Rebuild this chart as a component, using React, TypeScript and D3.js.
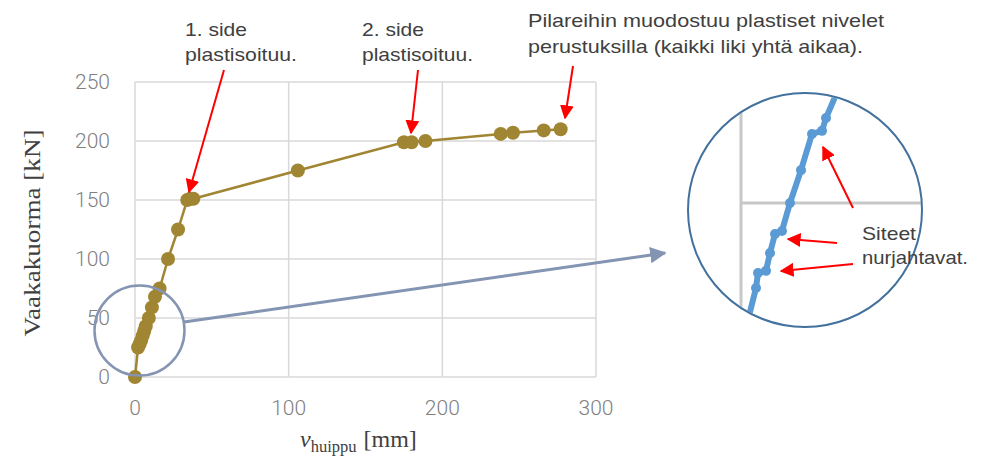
import React from "react";
import * as d3 from "d3";

// Main series: v_huippu [mm] vs Vaakakuorma [kN]
const dispMm = [0, 2, 3, 4, 5, 6, 7, 9, 11, 13, 16, 21.5, 28, 34, 36, 38, 106, 175, 180, 189, 238, 246, 266, 277];
const loadKn = [0, 25, 28, 31, 35, 39, 43, 50, 59, 68, 75, 100, 125, 150, 151, 151, 175, 199, 199, 200, 206, 207, 209, 210];

// Zoomed detail (inset) series
const insetDisp = [1.75, 3.75, 4.25, 6.25, 7.25, 8.5, 10.25, 12.25, 15, 17.75, 20.25, 21.25, 24.25];
const insetLoad = [11.9, 22.3, 27.2, 27.9, 33.7, 39.9, 40.9, 50, 60.7, 72.5, 73.5, 77.7, 86.8];
const insetMarked = [false, true, true, true, true, true, true, true, true, true, true, true, false];

const xTicks = [0, 100, 200, 300];
const yTicks = [0, 50, 100, 150, 200, 250];

export default function App() {
  const W = 982, H = 471;
  const x = d3.scaleLinear().domain([0, 300]).range([135, 596]);
  const y = d3.scaleLinear().domain([0, 250]).range([377, 82]);

  const xi = d3.scaleLinear().domain([0, 30]).range([741, 741 + 30 * 4]);
  const yi = d3.scaleLinear().domain([50, 80]).range([203, 203 - 30 * 3.07]);

  const pts = dispMm.map((d, i) => [d, loadKn[i]] as [number, number]);
  const line = d3.line<[number, number]>().x(d => x(d[0])).y(d => y(d[1]));
  const ipts = insetDisp.map((d, i) => [d, insetLoad[i]] as [number, number]);
  const iline = d3.line<[number, number]>().x(d => xi(d[0])).y(d => yi(d[1]));

  const gold = "#a08532";
  const grid = "#d9d9d9";
  const tickCol = "#7f7f7f";
  const txt = "#404040";
  const slate = "#8494b3";
  const red = "#ff0000";

  const icx = 805, icy = 210, ir = 117;

  const redArrow = (x1: number, y1: number, x2: number, y2: number, key: string) => (
    <line key={key} x1={x1} y1={y1} x2={x2} y2={y2} stroke={red} strokeWidth={2} markerEnd="url(#redHead)" />
  );

  return (
    <svg width={W} height={H} style={{ display: "block", position: "absolute", left: 0, top: 0 }}>
      <defs>
        <marker id="redHead" viewBox="0 0 10 10" refX="9" refY="5" markerWidth="7" markerHeight="7" markerUnits="strokeWidth" orient="auto">
          <path d="M0,0 L10,5 L0,10 Z" fill={red} />
        </marker>
        <marker id="slateHead" viewBox="0 0 10 10" refX="9" refY="5" markerWidth="5.5" markerHeight="5.5" markerUnits="strokeWidth" orient="auto">
          <path d="M0,0 L10,5 L0,10 Z" fill={slate} />
        </marker>
        <clipPath id="insetClip">
          <circle cx={icx} cy={icy} r={ir - 1} />
        </clipPath>
      </defs>
      <rect width={W} height={H} fill="#fff" />

      {/* gridlines */}
      {yTicks.map(t => (
        <line key={"gy" + t} x1={x(0)} x2={x(300)} y1={y(t)} y2={y(t)} stroke={grid} strokeWidth={1.5} />
      ))}
      {xTicks.map(t => (
        <line key={"gx" + t} x1={x(t)} x2={x(t)} y1={y(0)} y2={y(250)} stroke={grid} strokeWidth={1.5} />
      ))}

      {/* tick labels */}
      {yTicks.map(t => (
        <text key={"ly" + t} x={110} y={y(t)} dy="0.35em" textAnchor="end" fontFamily="Roboto" fontWeight={300} fontSize={21} fill={tickCol}>{t}</text>
      ))}
      {xTicks.map(t => (
        <text key={"lx" + t} x={x(t)} y={408} dy="0.35em" textAnchor="middle" fontFamily="Roboto" fontWeight={300} fontSize={21} fill={tickCol}>{t}</text>
      ))}

      {/* axis titles */}
      <text transform="translate(40,233) rotate(-90)" textAnchor="middle" fontFamily="Liberation Serif" fontSize={24} fill={txt} textLength={207} lengthAdjust="spacingAndGlyphs">Vaakakuorma [kN]</text>
      <text x={300} y={447} fontFamily="Liberation Serif" fontSize={24} fill={txt}>
        <tspan fontStyle="italic">v</tspan>
        <tspan fontSize={16.5} dy={5}>huippu</tspan>
        <tspan dy={-5} dx={7}>[mm]</tspan>
      </text>

      {/* data */}
      <path d={line(pts) || ""} fill="none" stroke={gold} strokeWidth={2.5} />
      {pts.map((p, i) => (
        <circle key={"p" + i} cx={x(p[0])} cy={y(p[1])} r={7} fill={gold} />
      ))}

      {/* magnifier circle & connector */}
      <circle cx={139.5} cy={330.5} r={45} fill="none" stroke={slate} strokeWidth={2.5} />
      <line x1={184} y1={322} x2={665} y2={253} stroke={slate} strokeWidth={3} markerEnd="url(#slateHead)" />

      {/* inset */}
      <circle cx={icx} cy={icy} r={ir} fill="#fff" />
      <g clipPath="url(#insetClip)">
        <line x1={xi(0)} x2={xi(0)} y1={icy - ir} y2={icy + ir} stroke="#c8c8c8" strokeWidth={3} />
        <line x1={xi(0)} x2={icx + ir} y1={yi(50)} y2={yi(50)} stroke="#c8c8c8" strokeWidth={3} />
        <path d={iline(ipts) || ""} fill="none" stroke="#5b9bd5" strokeWidth={6} strokeLinecap="round" />
        {ipts.map((p, i) => insetMarked[i] ? (
          <circle key={"ip" + i} cx={xi(p[0])} cy={yi(p[1])} r={5} fill="#5b9bd5" />
        ) : null)}
      </g>
      <circle cx={icx} cy={icy} r={ir} fill="none" stroke="#41719c" strokeWidth={2} />

      {/* annotations */}
      <g fontFamily="Liberation Sans" fontSize={19} fill={txt}>
        <text x={185} y={36} textLength={62} lengthAdjust="spacingAndGlyphs">1. side</text>
        <text x={185} y={61} textLength={112} lengthAdjust="spacingAndGlyphs">plastisoituu.</text>
        <text x={362} y={36} textLength={62} lengthAdjust="spacingAndGlyphs">2. side</text>
        <text x={362} y={61} textLength={111} lengthAdjust="spacingAndGlyphs">plastisoituu.</text>
        <text x={528} y={27} textLength={356} lengthAdjust="spacingAndGlyphs">Pilareihin muodostuu plastiset nivelet</text>
        <text x={528} y={53} textLength={335} lengthAdjust="spacingAndGlyphs">perustuksilla (kaikki liki yhtä aikaa).</text>
        <text x={862} y={240} textLength={54} lengthAdjust="spacingAndGlyphs">Siteet</text>
        <text x={862} y={264} textLength={106} lengthAdjust="spacingAndGlyphs">nurjahtavat.</text>
      </g>

      {redArrow(224, 70, 189, 192, "a1")}
      {redArrow(418, 70, 411, 133, "a2")}
      {redArrow(573, 66, 565, 118, "a3")}
      {redArrow(853, 208, 823, 147, "a4")}
      {redArrow(837, 243, 788, 239, "a5")}
      {redArrow(853, 264, 781, 271, "a6")}
    </svg>
  );
}
